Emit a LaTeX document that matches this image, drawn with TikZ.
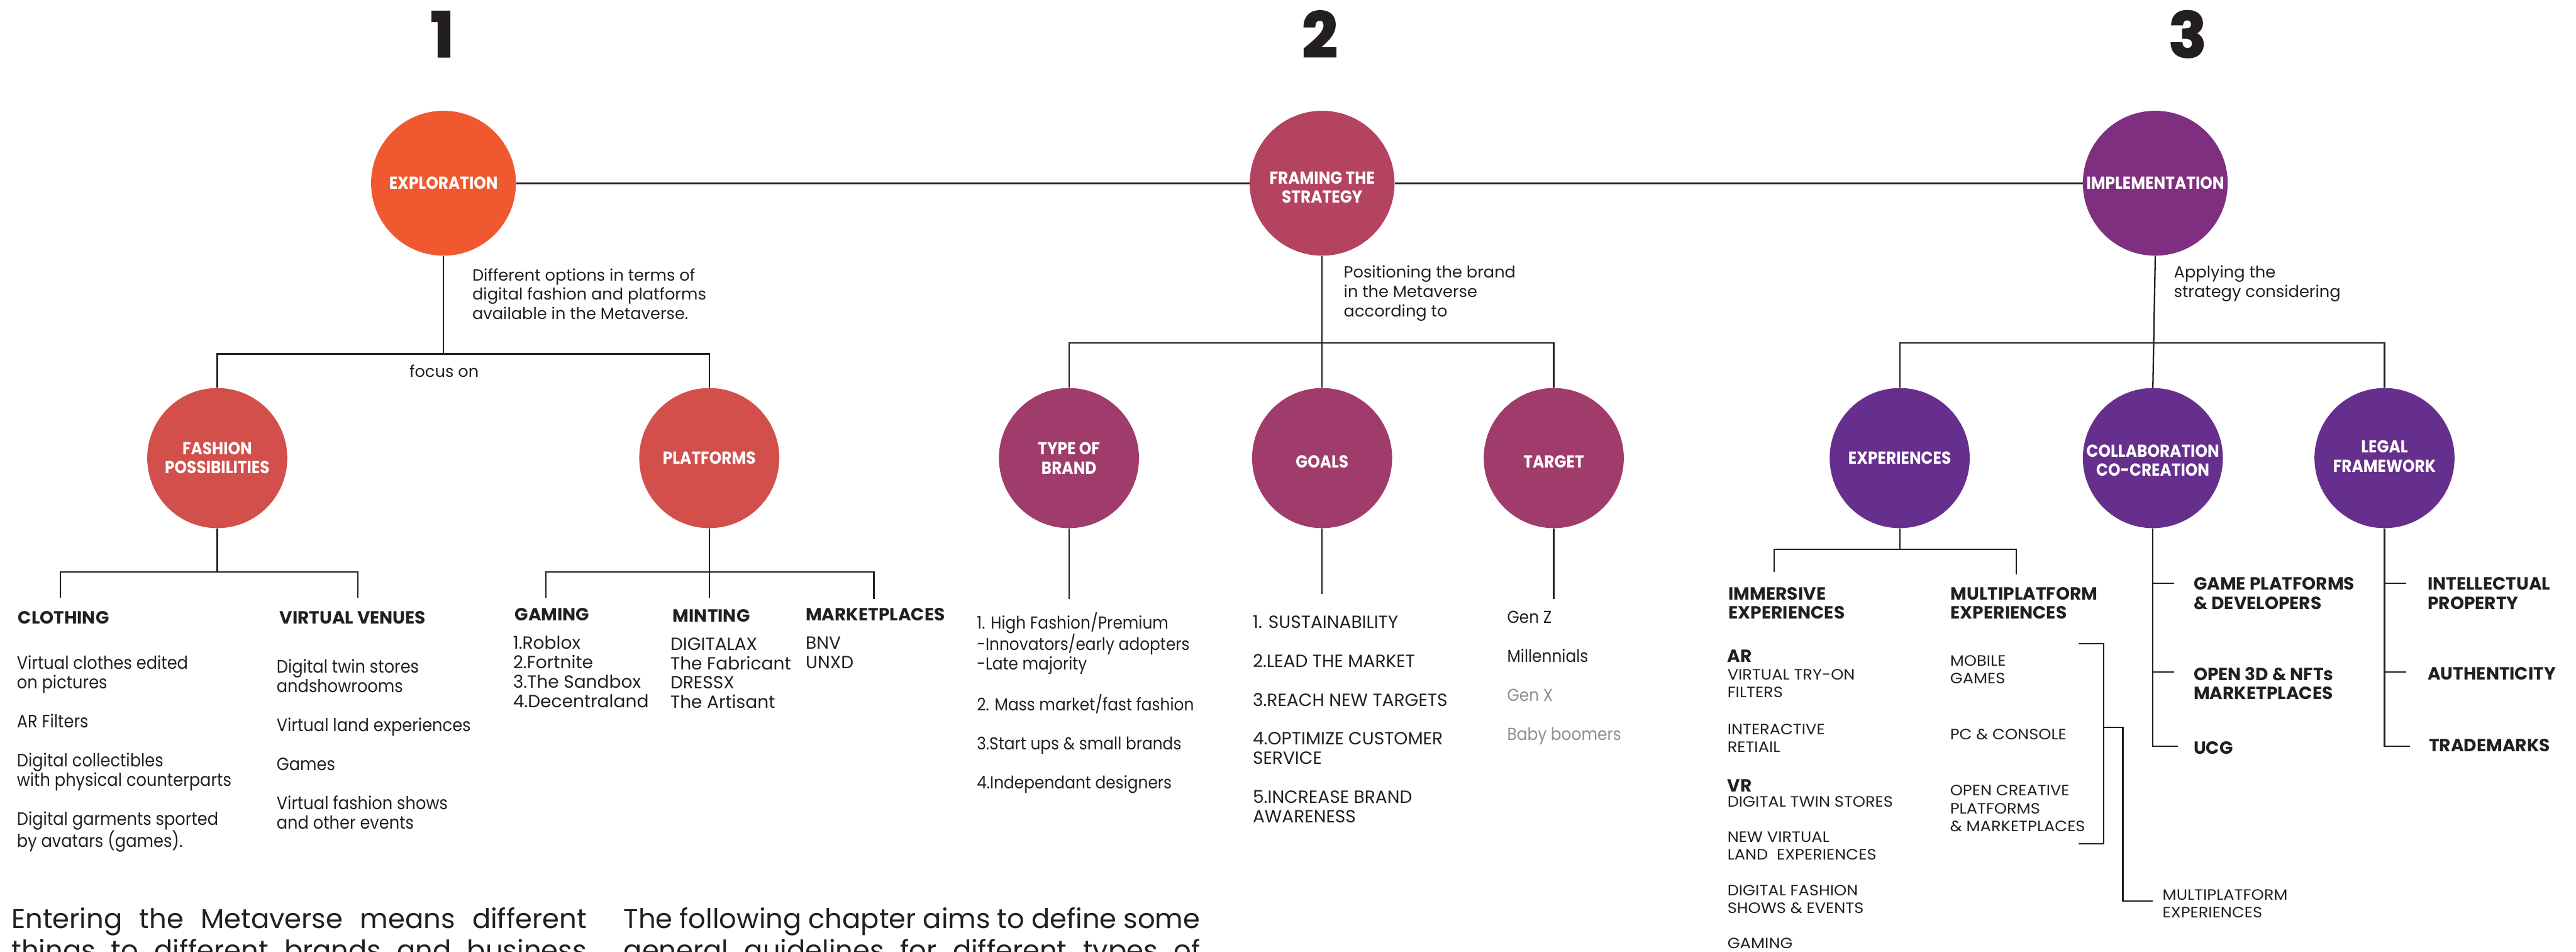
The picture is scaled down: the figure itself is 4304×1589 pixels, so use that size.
\documentclass[tikz,border=0pt]{standalone}
\usepackage{fontspec}
\setmainfont{Poppins}
\newfontfamily\cond{Poppins}[FakeStretch=0.9]
\newfontfamily\wide{Poppins}[FakeStretch=1.08]
\newfontfamily\numfont{Poppins}[BoldFeatures={FakeBold=2.5}]
\definecolor{ink}{HTML}{231F20}
\definecolor{soft}{HTML}{8E8E8E}
\definecolor{cExpl}{HTML}{F0582F}
\definecolor{cFash}{HTML}{D24F4B}
\definecolor{cFram}{HTML}{B4435F}
\definecolor{cType}{HTML}{A03C6B}
\definecolor{cImpl}{HTML}{7E2F80}
\definecolor{cExp}{HTML}{672F8D}
\tikzset{
  bigc/.style={circle, minimum size=242pt, inner sep=0pt, draw=none},
  smallc/.style={circle, minimum size=234pt, inner sep=0pt, draw=none},
  ctext/.style={text=white, font=\cond\bfseries\fontsize{29}{32}\selectfont, align=center, inner sep=0pt},
  mainln/.style={draw=ink, line width=3pt},
  ln/.style={draw=ink, line width=2.4pt},
  numtxt/.style={text=ink, font=\numfont\bfseries\fontsize{104}{110}\selectfont, inner sep=0pt},
  desc/.style={anchor=west, inner sep=0pt, text=ink, align=left, font=\fontsize{27}{32.5}\selectfont},
  head/.style={anchor=west, inner sep=0pt, text=ink, align=left, font=\bfseries\fontsize{29.5}{32}\selectfont},
  item/.style={anchor=west, inner sep=0pt, text=ink, align=left, font=\cond\fontsize{29}{32.5}\selectfont},
  fitem/.style={anchor=west, inner sep=0pt, text=ink, align=left, font=\cond\fontsize{30}{32.5}\selectfont},
  litem/.style={anchor=west, inner sep=0pt, text=ink, align=left, font=\fontsize{29.5}{32.4}\selectfont},
  capitem/.style={anchor=west, inner sep=0pt, text=ink, align=left, font=\wide\fontsize{25}{29.5}\selectfont},
  para/.style={anchor=base west, inner sep=0pt, text=ink, font=\fontsize{45.5}{52}\selectfont},
}
\begin{document}
\begin{tikzpicture}[x=1pt, y=-1pt]
\useasboundingbox (0,0) rectangle (4304,1589);
\clip (0,0) rectangle (4304,1589);

% step numbers
\node[numtxt] (n1) at (739,57) {1};
\node[numtxt] (n2) at (2205,57) {2};
\node[numtxt] (n3) at (3655,57) {3};

% main circles
\node[bigc, fill=cExpl, label={[ctext]center:EXPLORATION}] (expl) at (741,306) {};
\node[bigc, fill=cFram, label={[ctext, yshift=-7pt]center:FRAMING THE\\STRATEGY}] (fram) at (2209,306) {};
\node[bigc, fill=cImpl, label={[ctext]center:IMPLEMENTATION}] (impl) at (3601,306) {};

% second level circles
\node[smallc, fill=cFash, label={[ctext]center:FASHION\\POSSIBILITIES}] (fash) at (363,765) {};
\node[smallc, fill=cFash, label={[ctext]center:PLATFORMS}] (plat) at (1185,765) {};
\node[smallc, fill=cType, label={[ctext]center:TYPE OF\\BRAND}] (type) at (1786,765) {};
\node[smallc, fill=cType, label={[ctext, yshift=-6pt]center:GOALS}] (goals) at (2209,765) {};
\node[smallc, fill=cType, label={[ctext, yshift=-6pt]center:TARGET}] (target) at (2596,765) {};
\node[smallc, fill=cExp, label={[ctext]center:EXPERIENCES}] (exper) at (3174,765) {};
\node[smallc, fill=cExp, label={[ctext, yshift=-4pt]center:COLLABORATION\\CO-CREATION}] (collab) at (3597,765) {};
\node[smallc, fill=cExp, label={[ctext, yshift=3pt]center:LEGAL\\FRAMEWORK}] (legal) at (3984,765) {};

% main line
\draw[mainln] (expl) -- (fram);
\draw[mainln] (fram) -- (impl);

% descriptions
\node[desc] (d1) at (789,491) {Different options in terms of\\digital fashion and platforms\\available in the Metaverse.};
\node[desc] (d2) at (2245,490) {Positioning the brand\\in the Metaverse\\according to};
\node[desc] (d3) at (3632,474) {Applying the\\strategy considering};
\node[desc, anchor=center] (focus) at (742,620) {focus on};

% level 1 -> level 2 brackets
\draw[ln] (expl.south) -- (expl.south |- 0,591);
\draw[ln] (fash.north) -- (fash.north |- 0,591) -- (plat.north |- 0,591) -- (plat.north);
\draw[ln] (fram.south) -- (goals.north);
\draw[ln] (type.north) -- (type.north |- 0,573) -- (target.north |- 0,573) -- (target.north);
\draw[ln] (impl.south) -- (collab.north);
\draw[ln] (exper.north) -- (exper.north |- 0,573) -- (legal.north |- 0,573) -- (legal.north);

% fashion subtree
\coordinate (clE) at (101,998);
\coordinate (vvE) at (598,998);
\draw[ln] (fash.south) -- (fash.south |- 0,955);
\draw[ln] (clE) -- (clE |- 0,955) -- (vvE |- 0,955) -- (vvE);
\node[head] (hClo) at (30,1031) {CLOTHING};
\node[head] (hVen) at (467,1031) {VIRTUAL VENUES};
\node[fitem] (iClo) at (28,1259) {Virtual clothes edited\\on pictures\\[32.5pt]AR Filters\\[32.5pt]Digital collectibles\\with physical counterparts\\[32.5pt]Digital garments sported\\by avatars (games).};
\node[fitem] (iVen) at (462,1243) {Digital twin stores\\andshowrooms\\[32.5pt]Virtual land experiences\\[32.5pt]Games\\[32.5pt]Virtual fashion shows\\and other events};

% platforms subtree
\coordinate (gmE) at (912,998);
\coordinate (mkE) at (1460,1000);
\draw[ln] (plat.south) -- (plat.south |- 0,998);
\draw[ln] (gmE) -- (gmE |- 0,955) -- (mkE |- 0,955) -- (mkE);
\node[head] (hGam) at (860,1026) {GAMING};
\node[head] (hMin) at (1124,1028) {MINTING};
\node[head] (hMar) at (1346,1026) {MARKETPLACES};
\node[litem] (iGam) at (857,1122) {1.Roblox\\2.Fortnite\\3.The Sandbox\\4.Decentraland};
\node[litem] (iMin) at (1120,1124) {DIGITALAX\\The Fabricant\\DRESSX\\The Artisant};
\node[litem] (iMar) at (1346,1090) {BNV\\UNXD};

% framing subtree
\draw[ln] (type.south) -- (type.south |- 0,1000);
\draw[ln] (goals.south) -- (goals.south |- 0,992);
\draw[ln] (target.south) -- (target.south |- 0,1000);
\node[item] (iType) at (1632,1174) {1. High Fashion/Premium\\-Innovators/early adopters\\-Late majority\\[32.5pt]2. Mass market/fast fashion\\[32.5pt]3.Start ups \& small brands\\[32.5pt]4.Independant designers};
\node[litem] (iGoal) at (2093,1201) {1. SUSTAINABILITY\\[32.5pt]2.LEAD THE MARKET\\[32.5pt]3.REACH NEW TARGETS\\[32.5pt]4.OPTIMIZE CUSTOMER\\SERVICE\\[32.5pt]5.INCREASE BRAND\\AWARENESS};
\node[item] (iTar) at (2518,1132) {Gen Z\\[32.5pt]Millennials\\[32.5pt]{\color{soft}Gen X}\\[32.5pt]{\color{soft}Baby boomers}};

% experiences subtree
\coordinate (imE) at (2964,955);
\coordinate (muE) at (3369,959);
\draw[ln] (exper.south) -- (exper.south |- 0,917);
\draw[ln] (imE) -- (imE |- 0,917) -- (muE |- 0,917) -- (muE);
\node[head] (hImm) at (2888,1007) {IMMERSIVE\\EXPERIENCES};
\node[head] (hMul) at (3259,1007) {MULTIPLATFORM\\EXPERIENCES};
\node[capitem] (iAR) at (2886,1125) {{\rmfamily\bfseries\fontsize{29.5}{29.5}\selectfont AR}\\VIRTUAL TRY-ON\\FILTERS};
\node[capitem] (iInt) at (2886,1233) {INTERACTIVE\\RETIAIL};
\node[capitem] (iVR) at (2886,1325) {{\rmfamily\bfseries\fontsize{29.5}{29.5}\selectfont VR}\\[-4pt]DIGITAL TWIN STORES};
\node[capitem] (iNew) at (2886,1413) {NEW VIRTUAL\\LAND\ \ EXPERIENCES};
\node[capitem] (iShow) at (2886,1502) {DIGITAL FASHION\\SHOWS \& EVENTS};
\node[capitem] (iGmg) at (2886,1575) {GAMING};
\node[capitem] (iMob) at (3258,1118) {MOBILE\\GAMES};
\node[capitem] (iPC) at (3258,1226) {PC \& CONSOLE};
\node[capitem] (iOpen) at (3258,1350) {OPEN CREATIVE\\PLATFORMS\\\& MARKETPLACES};
\coordinate (brT) at (3473,1075);
\coordinate (brB) at (3473,1409);
\coordinate (brO) at (3597,1505);
\draw[ln] (brT) -- (3515,1075) -- (3515,1409) -- (brB);
\draw[ln] (3515,1215) -- (3547,1215) -- (3547,1505) -- (brO);
\node[capitem] (iMP) at (3613,1509) {MULTIPLATFORM\\EXPERIENCES};

% collaboration subtree
\draw[ln] (collab.south) |- (3639,1246);
\draw[ln] (collab.south |- 0,974) -- (3632,974);
\draw[ln] (collab.south |- 0,1122) -- (3632,1122);
\node[head] (cGame) at (3665,991) {GAME PLATFORMS\\\& DEVELOPERS};
\node[head] (cOpen) at (3665,1141) {OPEN 3D \& NFTs\\MARKETPLACES};
\node[head] (cUcg) at (3665,1249) {UCG};

% legal subtree
\draw[ln] (legal.south) |- (4027,1246);
\draw[ln] (legal.south |- 0,974) -- (4020,974);
\draw[ln] (legal.south |- 0,1122) -- (4020,1122);
\node[head] (lIP) at (4056,991) {INTELLECTUAL\\PROPERTY};
\node[head] (lAu) at (4056,1125) {AUTHENTICITY};
\node[head] (lTm) at (4058,1245) {TRADEMARKS};

% bottom paragraphs
\node[para] (p1a) at (19,1550) {\makebox[961pt][s]{Entering the Metaverse means different}};
\node[para] (p1b) at (19,1603) {\makebox[961pt][s]{things to different brands and business}};
\node[para] (p2a) at (1042,1550) {\makebox[963pt][s]{The following chapter aims to define some}};
\node[para] (p2b) at (1042,1603) {\makebox[963pt][s]{general guidelines for different types of}};
\end{tikzpicture}
\end{document}
